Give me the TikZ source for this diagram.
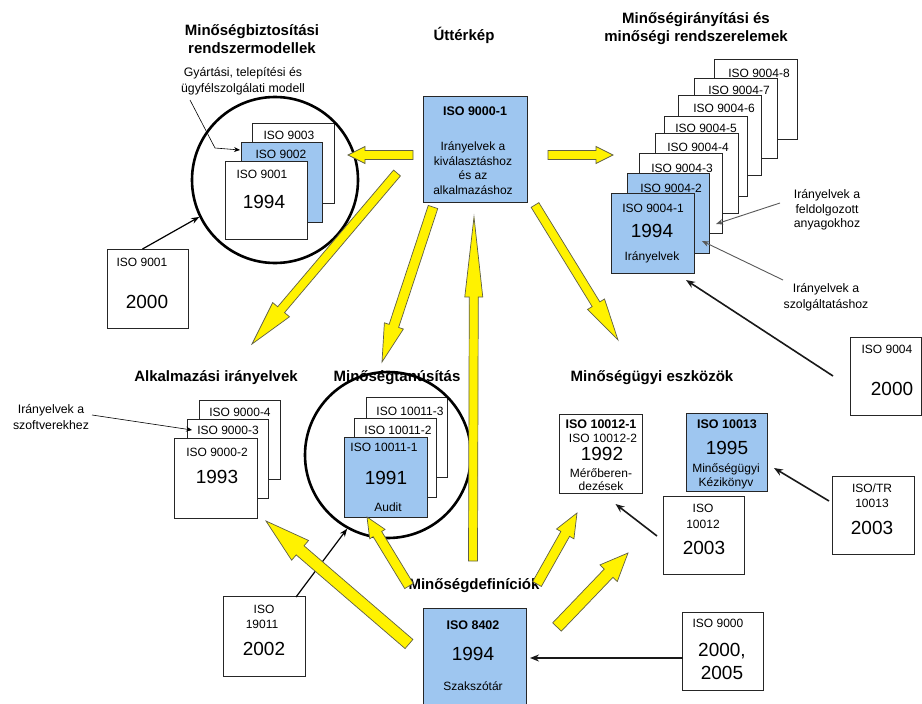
\documentclass[tikz,border=0pt]{standalone}
\usepackage{fontspec}
\setmainfont{Liberation Sans}
\usetikzlibrary{calc,arrows.meta}
\definecolor{qblue}{RGB}{158,198,240}
\definecolor{yout}{RGB}{95,95,70}
\newcommand\yarr[5]{%
  \coordinate (yh) at ($(#2)!#5!(#1)$);
  \draw[yarrow] ($(#1)!#3!90:(#2)$) -- ($(yh)!#3!90:(#2)$) -- ($(yh)!#4!90:(#2)$) -- (#2)
    -- ($(yh)!#4!-90:(#2)$) -- ($(yh)!#3!-90:(#2)$) -- ($(#1)!#3!-90:(#2)$) -- cycle;}
\tikzset{
 box/.style={draw=black!85, line width=0.8pt, fill=white, anchor=north west, inner sep=0pt, outer sep=0pt, minimum width=82pt, minimum height=80pt},
 bbox/.style={box, fill=qblue},
 txt/.style={inner sep=0pt, align=center, font=\fontsize{12}{14}\selectfont},
 tb/.style={inner sep=0pt, align=center, font=\bfseries\fontsize{12.5}{14}\selectfont},
 yr/.style={inner sep=0pt, align=center, font=\fontsize{19}{23}\selectfont},
 ttl/.style={inner sep=0pt, align=center, font=\bfseries\fontsize{15}{18}\selectfont},
 note/.style={inner sep=0pt, align=center, font=\fontsize{12.3}{15.5}\selectfont},
 ring/.style={circle, draw=black, line width=2.6pt, minimum size=166pt, inner sep=0pt},
 yarrow/.style={fill=yellow, draw=yout, line width=0.7pt, line join=miter},
 karrow/.style={draw=black!90, line width=1.6pt, -{Stealth[length=9pt,width=7pt]}},
 marrow/.style={draw=black, line width=1.2pt, -{Stealth[length=8pt,width=6pt]}},
 narrow/.style={draw=black, line width=0.6pt, -{Stealth[length=6pt,width=5pt]}},
 garrow/.style={draw=black!65, line width=0.9pt, -{Stealth[length=7pt,width=5.5pt]}},
}
\begin{document}
\begin{tikzpicture}[x=1pt,y=-1pt]
\useasboundingbox (0,0) rectangle (922,704);
\fill[white] (0,0) rectangle (922,704);

% titles
\node[ttl] (t1) at (252,39) {Minőségbiztosítási\\rendszermodellek};
\node[ttl] (t2) at (464,35) {Úttérkép};
\node[ttl] (t3) at (696,29) {Minőségirányítási és\\minőségi rendszerelemek};
\node[ttl] (t4) at (216,378) {Alkalmazási irányelvek};
\node[ttl] (t5) at (397,378) {Minőségtanúsítás};
\node[ttl] (t6) at (652,378) {Minőségügyi eszközök};
\node[ttl] (t7) at (474,586) {Minőségdefiníciók};

% group 1
\node[box] (b9003) at (252,123) {};
\node[txt] (l9003) at (289,135) {ISO 9003};
\node[bbox, minimum width=81pt] (b9002) at (241,142) {};
\node[txt] (l9002) at (281,154) {ISO 9002};
\node[box, minimum height=78pt] (b9001) at (225,161) {};
\node[txt] (l9001) at (262,174) {ISO 9001};
\node[yr] (y9001) at (264,202) {1994};
\node[ring] (r1) at (275,180) {};
\node[note, font=\fontsize{12.3}{16}\selectfont] (n1) at (243,81) {Gyártási, telepítési és\\ügyfélszolgálati modell};
\coordinate (n1a) at (190,100);
\coordinate (n1b) at (215,148);
\draw[narrow] (n1a) -- (n1b) -- ($(b9002.north west)+(-1,8)$);

\node[box, minimum width=81pt, minimum height=79pt] (b9001n) at (107,249) {};
\node[txt] (l9001n) at (142,262) {ISO 9001};
\node[yr] (y9001n) at (147,302) {2000};
\draw[marrow] ($(b9001n.north)+(-5,0)$) -- (r1.206);

% center
\node[bbox, minimum width=104pt, minimum height=106pt] (b90001) at (423,96) {};
\node[tb] (l90001) at (475,111) {ISO 9000-1};
\node[txt, font=\fontsize{12}{14.7}\selectfont] (d90001) at (473,168) {Irányelvek a\\kiválasztáshoz\\és az\\alkalmazáshoz};

% stack 9004
\node[box, minimum width=83pt] (s8) at (714,59) {};
\node[txt] (ls8) at (759,73) {ISO 9004-8};
\node[box, minimum width=83pt] (s7) at (694,78) {};
\node[txt] (ls7) at (739,90) {ISO 9004-7};
\node[box, minimum width=83pt] (s6) at (678,95) {};
\node[txt] (ls6) at (724,108) {ISO 9004-6};
\node[box, minimum width=83pt] (s5) at (664,116) {};
\node[txt] (ls5) at (706,128) {ISO 9004-5};
\node[box, minimum width=83pt] (s4) at (655,133) {};
\node[txt] (ls4) at (698,147) {ISO 9004-4};
\node[box, minimum width=83pt] (s3) at (639,153) {};
\node[txt] (ls3) at (682,168) {ISO 9004-3};
\node[bbox, minimum width=82pt] (s2) at (627,173) {};
\node[txt] (ls2) at (671,188) {ISO 9004-2};
\node[bbox, minimum width=83pt] (s1) at (611,193) {};
\node[txt] (ls1) at (653,208) {ISO 9004-1};
\node[yr] (ys1) at (652,231) {1994};
\node[txt] (ds1) at (652,257) {Irányelvek};

\node[note, font=\fontsize{12.3}{14.5}\selectfont] (n2) at (827,210) {Irányelvek a\\feldolgozott\\anyagokhoz};
\node[note, font=\fontsize{12.3}{16}\selectfont] (n3) at (826,297) {Irányelvek a\\szolgáltatáshoz};
\coordinate (c2) at (780,203);
\coordinate (c3) at (783,280);
\draw[garrow] (c2) -- ($(s3.south east)+(-6,-9)$);
\draw[garrow] (c3) -- ($(s2.south east)+(-7,-12)$);

\node[box, minimum width=71pt, minimum height=78pt] (b9004n) at (850,337) {};
\node[txt] (l9004n) at (887,349) {ISO 9004};
\node[yr] (y9004n) at (892,389) {2000};
\draw[karrow] ($(b9004n.west)+(-17,0)$) -- ($(s1.south east)+(-8,7)$);

% Alkalmazasi
\node[box, minimum width=81pt, minimum height=79pt] (a4) at (199,400) {};
\node[txt] (la4) at (240,412) {ISO 9000-4};
\node[box, minimum width=81pt, minimum height=79pt] (a3) at (187,419) {};
\node[txt] (la3) at (228,430) {ISO 9000-3};
\node[box, minimum width=83pt] (a2) at (174,438) {};
\node[txt] (la2) at (217,452) {ISO 9000-2};
\node[yr] (ya2) at (217,477) {1993};
\node[note] (n4) at (51,417) {Irányelvek a\\szoftverekhez};
\coordinate (c4) at (92,415);
\draw[narrow] (c4) -- ($(a3.north west)+(5,11)$);

% Audit
\node[box, minimum width=81pt] (u3) at (366,397) {};
\node[txt] (lu3) at (410,411) {ISO 10011-3};
\node[box, minimum width=82pt, minimum height=79pt] (u2) at (354,418) {};
\node[txt] (lu2) at (398,430) {ISO 10011-2};
\node[bbox, minimum width=83pt] (u1) at (344,437) {};
\node[txt] (lu1) at (384,447) {ISO 10011-1};
\node[yr] (yu1) at (386,478) {1991};
\node[txt] (du1) at (388,507) {Audit};
\node[ring] (r2) at (388,455) {};

% tools
\node[box, minimum width=83pt, minimum height=79pt] (b10012) at (559,414) {};
\node[tb] (l10012a) at (601,424) {ISO 10012-1};
\node[txt] (l10012b) at (603,438) {ISO 10012-2};
\node[yr] (y10012) at (602,454) {1992};
\node[txt] (d10012a) at (601,473) {Mérőberen-};
\node[txt] (d10012b) at (601,486) {dezések};

\node[bbox, minimum width=81pt, minimum height=78pt] (b10013) at (686,413) {};
\node[tb] (l10013) at (727,424) {ISO 10013};
\node[yr] (y10013) at (727,448) {1995};
\node[txt] (d10013a) at (726,469) {Minőségügyi};
\node[txt] (d10013b) at (726,483) {Kézikönyv};

\node[box, minimum width=81pt, minimum height=78pt] (b10012n) at (663,496) {};
\node[txt] (l10012na) at (703,508) {ISO};
\node[txt] (l10012nb) at (703,524) {10012};
\node[yr] (y10012n) at (704,548) {2003};
\draw[karrow] ($(b10012n.west)+(-6,1)$) -- ($(b10012.south)+(15,11)$);

\node[box, minimum height=78pt] (b10013n) at (832,476) {};
\node[txt] (l10013na) at (872,488) {ISO/TR};
\node[txt] (l10013nb) at (872,503) {10013};
\node[yr] (y10013n) at (872,528) {2003};
\draw[karrow] ($(b10013n.west)+(-3,-14)$) -- ($(b10013.east)+(7,16)$);

% definitions
\node[bbox, minimum width=103pt, minimum height=110pt] (b8402) at (423,608) {};
\node[tb] (l8402) at (473,625) {ISO 8402};
\node[yr] (y8402) at (473,654) {1994};
\node[txt] (d8402) at (473,686) {Szakszótár};

\node[box, minimum width=81pt, minimum height=78pt] (b9000n) at (682,612) {};
\node[txt] (l9000n) at (718,623) {ISO 9000};
\node[yr] (y9000n) at (722,661) {2000,\\2005};
\draw[karrow] ($(b9000n.west)+(1,7)$) -- ($(b8402.east)+(4,-5)$);

\node[box] (b19011) at (223,596) {};
\node[txt] (l19011a) at (264,609) {ISO};
\node[txt] (l19011b) at (262,624) {19011};
\node[yr] (y19011) at (264,649) {2002};
\draw[marrow] ($(b19011.north east)+(-9,1)$) -- (r2.241);

% yellow arrows
\coordinate (ya1s) at (413,155); \coordinate (ya1e) at (348,155);
\coordinate (ya2s) at (548,155); \coordinate (ya2e) at (613,155);
\coordinate (ya3s) at (397,173); \coordinate (ya3e) at (252,344);
\coordinate (ya4s) at (433,207); \coordinate (ya4e) at (382,362);
\coordinate (ya5s) at (473,561); \coordinate (ya5e) at (474,217);
\coordinate (ya6s) at (535,205); \coordinate (ya6e) at (618,340);
\coordinate (ya7s) at (409,586); \coordinate (ya7e) at (367,517);
\coordinate (ya8s) at (409,644); \coordinate (ya8e) at (266,521);
\coordinate (ya9s) at (537,584); \coordinate (ya9e) at (577,513);
\coordinate (ya10s) at (557,627); \coordinate (ya10e) at (628,553);
\yarr{ya1s}{ya1e}{4.5pt}{8.5pt}{17pt}
\yarr{ya2s}{ya2e}{4.5pt}{8.5pt}{17pt}
\yarr{ya3s}{ya3e}{4.5pt}{11pt}{45pt}
\yarr{ya4s}{ya4e}{5pt}{10pt}{38pt}
\yarr{ya5s}{ya5e}{4.5pt}{9pt}{80pt}
\yarr{ya6s}{ya6e}{4.5pt}{10pt}{42pt}
\yarr{ya7s}{ya7e}{5pt}{9pt}{20pt}
\yarr{ya8s}{ya8e}{6pt}{13pt}{45pt}
\yarr{ya9s}{ya9e}{5pt}{10pt}{24pt}
\yarr{ya10s}{ya10e}{6pt}{12pt}{28pt}
\end{tikzpicture}
\end{document}
